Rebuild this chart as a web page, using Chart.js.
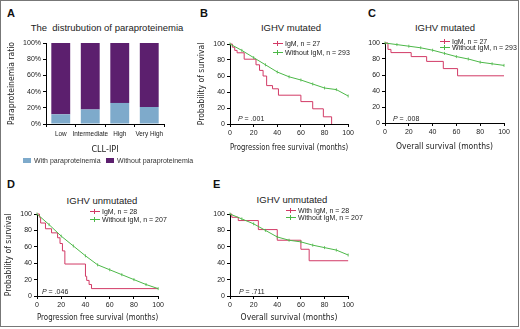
<!DOCTYPE html>
<html>
<head>
<meta charset="utf-8">
<script src="https://cdn.jsdelivr.net/npm/chart.js@4.4.1/dist/chart.umd.min.js"></script>
<style>
  body { margin: 0; width: 520px; height: 329px; position: relative; overflow: hidden; background: #fff;
         font-family: "Liberation Sans", Arial, sans-serif; color: #222; }
  #frame { position: absolute; left: 0; top: 0; width: 517px; height: 325px; border: 1px solid #777; }
  canvas { position: absolute; }
  .letter { position: absolute; font-weight: bold; font-size: 11px; line-height: 11px; color: #111; }
  .ttl { position: absolute; font-size: 9.5px; line-height: 10px; white-space: nowrap; transform: translate(-50%, -50%); }
  .leg { position: absolute; font-size: 7px; line-height: 8px; white-space: nowrap; }
  .leg span.sw { display: inline-block; width: 10px; height: 1px; vertical-align: middle; margin-right: 2px; position: relative; top: -1px; }
  .leg span.sw::after { content: ""; position: absolute; left: 4px; top: -2px; width: 1px; height: 5px; background: inherit; }
  .pval { position: absolute; font-size: 7px; line-height: 8px; white-space: nowrap; }
  .bleg { position: absolute; font-size: 7px; line-height: 8px; white-space: nowrap; color: #333; }
  .bleg span { display: inline-block; width: 8px; height: 5px; margin-right: 3px; vertical-align: middle; position: relative; top: -1px; }
</style>
</head>
<body>
<div id="frame"></div>

<div class="letter" style="left:7px;top:8px">A</div>
<div class="letter" style="left:200px;top:8px">B</div>
<div class="letter" style="left:368px;top:8px">C</div>
<div class="letter" style="left:7px;top:179px">D</div>
<div class="letter" style="left:213px;top:179px">E</div>

<div class="ttl" style="left:107px;top:28px">The&nbsp; distrubution of paraproteinemia</div>
<div class="ttl" style="left:291px;top:28px">IGHV mutated</div>
<div class="ttl" style="left:445px;top:28px">IGHV mutated</div>
<div class="ttl" style="left:102px;top:201px">IGHV unmutated</div>
<div class="ttl" style="left:292px;top:200px">IGHV unmutated</div>

<canvas id="chartA" width="168" height="125" style="left:4px;top:33px"></canvas>
<canvas id="chartB" width="162" height="122" style="left:194px;top:34px"></canvas>
<canvas id="chartC" width="152" height="122" style="left:360px;top:33px"></canvas>
<canvas id="chartD" width="165" height="122" style="left:1px;top:204px"></canvas>
<canvas id="chartE" width="151" height="122" style="left:205px;top:204px"></canvas>

<div class="bleg" style="left:23px;top:157px"><span style="background:#7eaacb"></span>With paraproteinemia</div>
<div class="bleg" style="left:106px;top:157px"><span style="background:#5c1f6e"></span>Without paraproteinemia</div>

<div class="leg" style="left:273px;top:40px"><span class="sw" style="background:#d23a66"></span>IgM, n = 27</div>
<div class="leg" style="left:273px;top:49px"><span class="sw" style="background:#4cb848"></span>Without IgM, n = 293</div>
<div class="leg" style="left:440px;top:38px"><span class="sw" style="background:#d23a66"></span>IgM, n = 27</div>
<div class="leg" style="left:440px;top:44px"><span class="sw" style="background:#4cb848"></span>Without IgM, n = 293</div>
<div class="leg" style="left:90px;top:208px"><span class="sw" style="background:#d23a66"></span>IgM, n = 28</div>
<div class="leg" style="left:90px;top:216px"><span class="sw" style="background:#4cb848"></span>Without IgM, n = 207</div>
<div class="leg" style="left:286px;top:207px"><span class="sw" style="background:#d23a66"></span>With IgM, n = 28</div>
<div class="leg" style="left:286px;top:214px"><span class="sw" style="background:#4cb848"></span>Without IgM, n = 207</div>

<div class="pval" style="left:238px;top:115px"><i>P</i> = .001</div>
<div class="pval" style="left:393px;top:115px"><i>P</i> = .008</div>
<div class="pval" style="left:42px;top:288px"><i>P</i> = .046</div>
<div class="pval" style="left:239px;top:288px"><i>P</i> = .711</div>

<script>
// panel A: paraproteinemia by CLL-IPI group (%)
const cllIpiGroups = ['Low', 'Intermediate', 'High', 'Very High'];
const withPara = [12, 18, 26, 21];
const withoutPara = [88, 82, 74, 79];

// KM curves, months / survival %
// B: PFS, IGHV mutated
const pfsMutIgmT = [0, 2, 4, 6, 12, 22, 25, 28, 31, 36, 41, 60, 70, 79, 86];
const pfsMutIgmS = [100, 96, 92, 89, 81, 74, 67, 60, 48, 44, 36, 28, 19, 9, 0];
const pfsMutNoIgmT = [0, 10, 20, 30, 40, 50, 60, 70, 80, 90, 100];
const pfsMutNoIgmS = [100, 92, 83, 74, 65, 59, 55, 50, 45, 43, 35];
// C: OS, IGHV mutated
const osMutIgmT = [0, 2.5, 5, 22, 35, 49, 61, 100];
const osMutIgmS = [100, 92, 88, 83, 77, 68, 59, 59];
const osMutNoIgmT = [0, 10, 20, 30, 40, 50, 60, 70, 80, 90, 100];
const osMutNoIgmS = [100, 98, 96, 94, 91, 87, 83, 80, 76, 74, 72];
// D: PFS, IGHV unmutated
const pfsUnmIgmT = [0, 2, 3, 7, 12, 17, 19, 21, 23, 40, 41, 43, 45, 100];
const pfsUnmIgmS = [100, 96, 89, 82, 77, 71, 64, 55, 39, 24, 19, 14, 9, 9];
const pfsUnmNoIgmT = [0, 10, 20, 30, 40, 50, 60, 70, 80, 90, 100];
const pfsUnmNoIgmS = [100, 87, 73, 61, 49, 38, 32, 26, 20, 14, 9];
// E: OS, IGHV unmutated
const osUnmIgmT = [0, 1.5, 7, 24, 40, 60, 67, 100];
const osUnmIgmS = [100, 96, 92, 81, 68, 57, 43, 43];
const osUnmNoIgmT = [0, 10, 20, 30, 40, 50, 60, 70, 80, 90, 100];
const osUnmNoIgmS = [100, 94, 88, 80, 72, 68, 66, 62, 59, 56, 50];

const RED = '#d23a66';
const GREEN = '#4cb848';
const tickFont = { family: '"Liberation Sans", Arial, sans-serif', size: 7 };
const titleFont = { family: '"Liberation Sans Narrow", "DejaVu Sans Condensed", Arial, sans-serif', size: 8.5 };

function axisStyle() {
  return {
    grid: { display: true, drawOnChartArea: false, drawTicks: true, tickLength: 3, color: '#000' },
    border: { display: true, color: '#000', width: 1 }
  };
}

function pts(t, s) {
  return t.map((x, i) => ({ x: x, y: s[i] }));
}

// panel A
new Chart(document.getElementById('chartA'), {
  type: 'bar',
  data: {
    labels: cllIpiGroups,
    datasets: [
      { label: 'With paraproteinemia', data: withPara, backgroundColor: '#7eaacb' },
      { label: 'Without paraproteinemia', data: withoutPara, backgroundColor: '#5c1f6e' }
    ]
  },
  options: {
    responsive: false,
    animation: false,
    layout: { padding: { top: 10, right: 8, left: 0, bottom: 0 } },
    plugins: { legend: { display: false }, tooltip: { enabled: false } },
    datasets: { bar: { barPercentage: 0.8, categoryPercentage: 0.8 } },
    scales: {
      x: {
        stacked: true,
        ...axisStyle(),
        ticks: { font: { ...tickFont, size: 6.4 }, color: '#222', padding: 3, maxRotation: 0, autoSkip: false },
        title: { display: true, text: 'CLL-IPI', font: { ...titleFont, size: 9 }, color: '#222', padding: { top: 0, bottom: 3 } },
        afterFit: s => { s.height = 34; }
      },
      y: {
        stacked: true,
        min: 0, max: 100,
        ...axisStyle(),
        ticks: { stepSize: 20, font: tickFont, color: '#222', padding: 2, callback: v => v + '%' },
        title: { display: true, text: 'Paraproteinemia ratio', font: titleFont, color: '#222', padding: { top: 3, bottom: 0 } },
        afterFit: s => { s.width = 42; }
      }
    }
  }
});

function makeKM(id, redT, redS, greenT, greenS, xTitle, yTitle, yWidth, pad) {
  return new Chart(document.getElementById(id), {
    type: 'line',
    data: {
      datasets: [
        {
          label: 'Without IgM', data: pts(greenT, greenS), borderColor: GREEN, backgroundColor: GREEN,
          borderWidth: 1, pointStyle: 'line', rotation: 90, pointRadius: 1.5, pointBorderWidth: 0.8, clip: false
        },
        {
          label: 'IgM', data: pts(redT, redS), borderColor: RED, backgroundColor: RED,
          borderWidth: 1, stepped: 'before', pointRadius: 0, clip: false
        }
      ]
    },
    options: {
      responsive: false,
      animation: false,
      layout: { padding: { top: pad.top, right: pad.right, left: 0, bottom: 0 } },
      plugins: { legend: { display: false }, tooltip: { enabled: false } },
      scales: {
        x: {
          type: 'linear', min: 0, max: 100,
          ...axisStyle(),
          ticks: { stepSize: 20, font: tickFont, color: '#222', padding: 2, maxRotation: 0 },
          title: { display: true, text: xTitle, font: titleFont, color: '#222', padding: { top: 0, bottom: 3 } },
          afterFit: s => { s.height = pad.bottomAxis; }
        },
        y: {
          min: 0, max: 100,
          ...axisStyle(),
          ticks: { stepSize: 20, font: tickFont, color: '#222', padding: 2 },
          title: { display: !!yTitle, text: yTitle || '', font: titleFont, color: '#222', padding: { top: 3, bottom: 0 } },
          afterFit: s => { s.width = yWidth; }
        }
      }
    }
  });
}

makeKM('chartB', pfsMutIgmT, pfsMutIgmS, pfsMutNoIgmT, pfsMutNoIgmS,
  'Progression free survival (months)', 'Probability of survival', 36, { top: 10, right: 7, bottomAxis: 32 });
makeKM('chartC', osMutIgmT, osMutIgmS, osMutNoIgmT, osMutNoIgmS,
  'Overall survival (months)', null, 25, { top: 10, right: 8, bottomAxis: 32 });
makeKM('chartD', pfsUnmIgmT, pfsUnmIgmS, pfsUnmNoIgmT, pfsUnmNoIgmS,
  'Progression free survival (months)', 'Probability of survival', 36, { top: 10, right: 6, bottomAxis: 30 });
makeKM('chartE', osUnmIgmT, osUnmIgmS, osUnmNoIgmT, osUnmNoIgmS,
  'Overall survival (months)', null, 25, { top: 10, right: 7, bottomAxis: 30 });
</script>
</body>
</html>
